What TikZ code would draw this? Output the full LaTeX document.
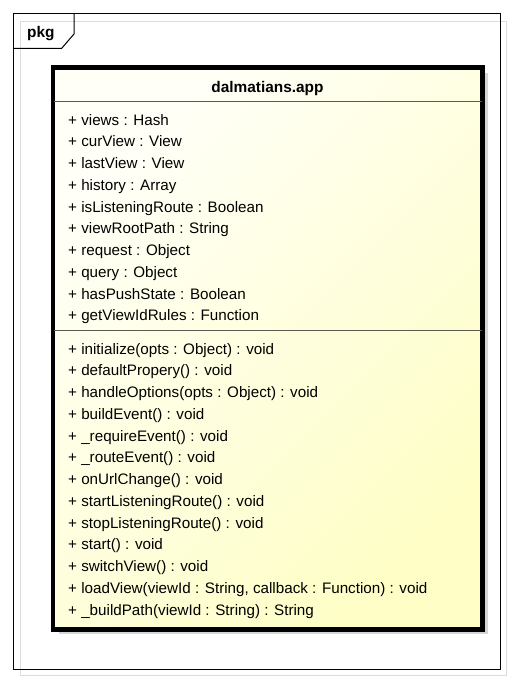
\documentclass[tikz,border=0pt]{standalone}
\usepackage{fontspec}
\setmainfont{Liberation Sans}
\definecolor{clsTop}{HTML}{FFFFF8}
\definecolor{clsBot}{HTML}{FEFEC6}
\definecolor{sepLine}{HTML}{5A5A50}
\definecolor{shadowGrey}{HTML}{D6D6D6}
\definecolor{frameShadow}{HTML}{DCDCDC}
\begin{document}
\begin{tikzpicture}[x=1pt,y=-1pt,
  txt/.style={font=\fontsize{15.2}{18}\selectfont, inner sep=0pt},
  member/.style={txt, anchor=base west},
  boldtxt/.style={font=\fontsize{15.4}{18}\selectfont\bfseries, inner sep=0pt}]
\useasboundingbox (0,0) rectangle (513,682);
\fill[white] (0,0) rectangle (513,682);
% package frame with its shadow
\draw[frameShadow, line width=1pt] (20.7,21.5) rectangle (506,675);
\draw[line width=1pt] (13.3,13.3) rectangle (500.3,669);
\draw[line width=1pt] (13.3,48.3) -- (61.7,48.3) -- (74,34) -- (74,13.3);
\node[boldtxt, anchor=base west] (pkg) at (27,37.7) {pkg};
% class shadow
\fill[shadowGrey] (58.5,73.5) rectangle (487.5,634);
% class box
\node[draw, line width=3pt, inner sep=0pt, minimum width=428pt, minimum height=560pt,
      top color=clsTop, bottom color=clsBot, shading angle=45] (cls) at (267.5,348.5) {};
\node[boldtxt, anchor=base] (title) at (267.5,92.3) {dalmatians.app};
\draw[sepLine, line width=0.9pt] (cls.west |- 0,101.7) coordinate (s1a) -- (cls.east |- 0,101.7) coordinate (s1b);
\draw[sepLine, line width=0.9pt] (cls.west |- 0,330.7) coordinate (s2a) -- (cls.east |- 0,330.7) coordinate (s2b);
\draw[line width=3pt] (cls.north west) rectangle (cls.south east);
% attributes
\foreach \t [count=\i from 0] in {%
  {+ views : Hash},
  {+ curView : View},
  {+ lastView : View},
  {+ history : Array},
  {+ isListeningRoute : Boolean},
  {+ viewRootPath : String},
  {+ request : Object},
  {+ query : Object},
  {+ hasPushState : Boolean},
  {+ getViewIdRules : Function}}
  \node[member] (attr\i) at (68,{125+21.75*\i}) {\t};
% operations
\foreach \t [count=\i from 0] in {%
  {+ initialize(opts : Object) : void},
  {+ defaultPropery() : void},
  {+ handleOptions(opts : Object) : void},
  {+ buildEvent() : void},
  {+ \_requireEvent() : void},
  {+ \_routeEvent() : void},
  {+ onUrlChange() : void},
  {+ startListeningRoute() : void},
  {+ stopListeningRoute() : void},
  {+ start() : void},
  {+ switchView() : void},
  {+ loadView(viewId : String, callback : Function) : void},
  {+ \_buildPath(viewId : String) : String}}
  \node[member] (op\i) at (68,{354+21.75*\i}) {\t};
\end{tikzpicture}
\end{document}
